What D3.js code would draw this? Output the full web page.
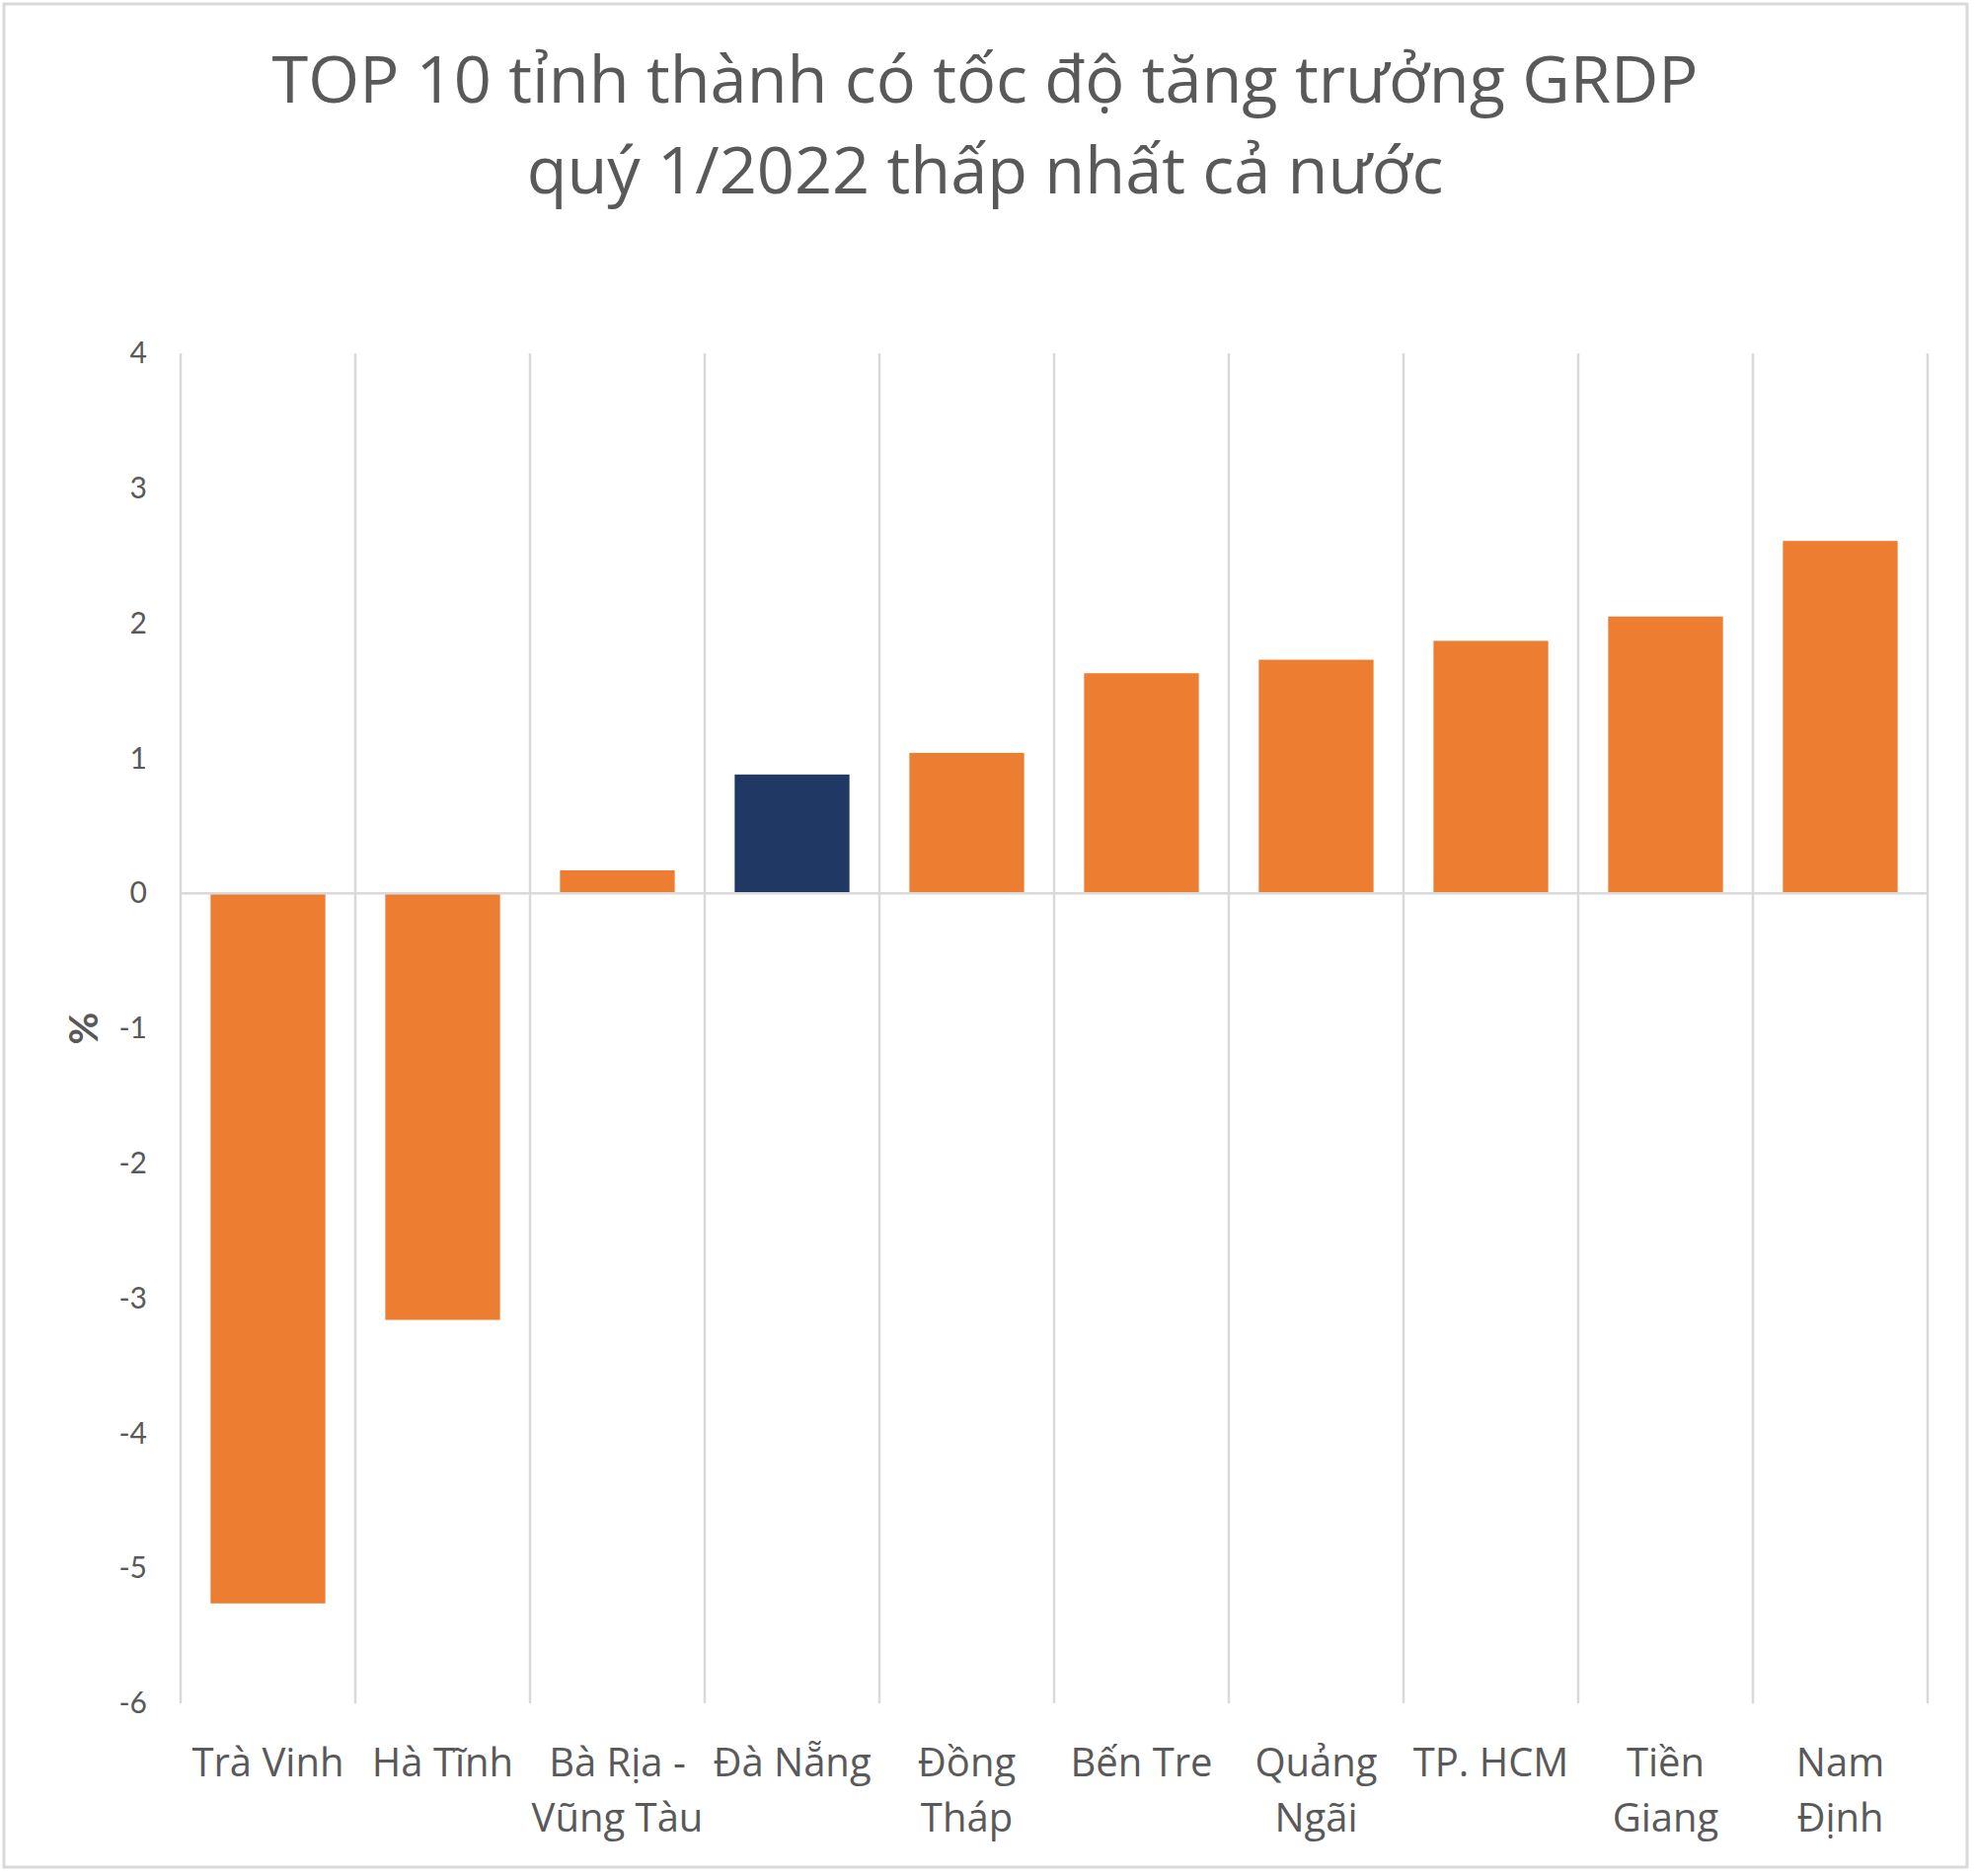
<!DOCTYPE html>
<html>
<head>
<meta charset="utf-8">
<script src="https://cdn.jsdelivr.net/npm/d3@7"></script>
<style>
  html, body { margin: 0; padding: 0; background: #ffffff; }
  svg { display: block; }
</style>
</head>
<body>
<script>
// ---- data ----
const titleLines = ["TOP 10 tỉnh thành có tốc độ tăng trưởng GRDP", "quý 1/2022 thấp nhất cả nước"];
const categories = ["Trà Vinh", "Hà Tĩnh", "Bà Rịa - Vũng Tàu", "Đà Nẵng", "Đồng Tháp", "Bến Tre", "Quảng Ngãi", "TP. HCM", "Tiền Giang", "Nam Định"];
const categoryLabelLines = [["Trà Vinh"], ["Hà Tĩnh"], ["Bà Rịa -", "Vũng Tàu"], ["Đà Nẵng"], ["Đồng", "Tháp"], ["Bến Tre"], ["Quảng", "Ngãi"], ["TP. HCM"], ["Tiền", "Giang"], ["Nam", "Định"]];
const growth = [-5.26, -3.16, 0.17, 0.88, 1.04, 1.63, 1.73, 1.87, 2.05, 2.61];
const highlighted = ["Đà Nẵng"];
const yTicks = [4, 3, 2, 1, 0, -1, -2, -3, -4, -5, -6];
const yDomain = [-6, 4];
const yAxisTitle = "%";

// ---- layout ----
const W = 2000, H = 1901;
const plot = { left: 183, right: 1953, top: 358, bottom: 1726 };
const textColor = "#595959";
const gridColor = "#d9d9d9";
const barColor = "#ED7D31";
const highlightColor = "#203864";

const svg = d3.select("body").append("svg").attr("width", W).attr("height", H);

svg.append("rect").attr("x", 4).attr("y", 4).attr("width", 1989).attr("height", 1888)
  .attr("fill", "#ffffff").attr("stroke", gridColor).attr("stroke-width", 3);

// title
svg.append("g").selectAll("text").data(titleLines).join("text")
  .attr("x", 998).attr("y", (d, i) => 104 + i * 92)
  .attr("text-anchor", "middle")
  .attr("font-family", "'Open Sans', 'Noto Sans', sans-serif")
  .attr("font-size", 66.7)
  .attr("fill", textColor)
  .text(d => d);

const x = d3.scaleBand().domain(categories).range([plot.left, plot.right]).padding(0);
const xBar = d3.scaleBand().domain(categories).range([plot.left, plot.right])
  .paddingInner(0.343).paddingOuter(0.1715);
const y = d3.scaleLinear().domain(yDomain).range([plot.bottom, plot.top]);

// vertical gridlines at category boundaries
const boundaries = categories.map(c => x(c)).concat([plot.right]);
svg.append("g").selectAll("line").data(boundaries).join("line")
  .attr("x1", d => d).attr("x2", d => d)
  .attr("y1", plot.top).attr("y2", plot.bottom)
  .attr("stroke", gridColor).attr("stroke-width", 2.5);

// bars
svg.append("g").selectAll("rect").data(categories).join("rect")
  .attr("x", c => xBar(c))
  .attr("width", xBar.bandwidth())
  .attr("y", (c, i) => y(Math.max(0, growth[i])))
  .attr("height", (c, i) => Math.abs(y(growth[i]) - y(0)))
  .attr("fill", c => highlighted.includes(c) ? highlightColor : barColor);

// zero axis line
svg.append("line")
  .attr("x1", plot.left).attr("x2", plot.right)
  .attr("y1", y(0)).attr("y2", y(0))
  .attr("stroke", gridColor).attr("stroke-width", 2.5);

// y axis labels
const yAxis = svg.append("g").attr("transform", `translate(${plot.left},0)`)
  .call(d3.axisLeft(y).tickValues(yTicks).tickSize(0).tickPadding(34).tickFormat(d3.format("d")));
yAxis.select(".domain").remove();
yAxis.selectAll("text")
  .attr("font-family", "Lato, 'Open Sans', sans-serif")
  .attr("font-size", 30)
  .attr("fill", textColor)
  .text(d => d < 0 ? "-" + Math.abs(d) : d);

// y axis title
svg.append("text")
  .attr("transform", `translate(99,1042) rotate(-90)`)
  .attr("text-anchor", "middle")
  .attr("font-family", "Lato, 'Open Sans', sans-serif")
  .attr("font-weight", "bold")
  .attr("font-size", 40)
  .attr("fill", textColor)
  .text(yAxisTitle);

// x category labels
const xl = svg.append("g").selectAll("text").data(categories).join("text")
  .attr("x", c => x(c) + x.bandwidth() / 2)
  .attr("y", 1800)
  .attr("text-anchor", "middle")
  .attr("font-family", "'Open Sans', 'Noto Sans', sans-serif")
  .attr("font-size", 40)
  .attr("fill", textColor);
xl.selectAll("tspan").data((c, i) => categoryLabelLines[i]).join("tspan")
  .attr("x", function () { return d3.select(this.parentNode).attr("x"); })
  .attr("dy", (d, j) => j === 0 ? 0 : 56)
  .text(d => d);
</script>
</body>
</html>
